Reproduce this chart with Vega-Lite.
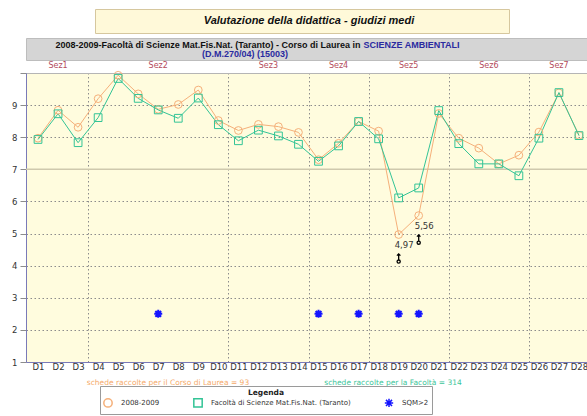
{
  "$schema": "https://vega.github.io/schema/vega-lite/v6.json",
  "padding": {"left": 11, "top": 8, "right": 0, "bottom": 0},
  "background": "white",
  "spacing": 1,
  "config": {"view": {"stroke": null}, "font": "DejaVu Sans"},
  "datasets": {
    "medie": [
      {"n": 1, "sez": "Sez1", "serie": "2008-2009", "v": 7.97},
      {"n": 2, "sez": "Sez1", "serie": "2008-2009", "v": 8.84},
      {"n": 3, "sez": "Sez1", "serie": "2008-2009", "v": 8.31},
      {"n": 4, "sez": "Sez2", "serie": "2008-2009", "v": 9.2},
      {"n": 5, "sez": "Sez2", "serie": "2008-2009", "v": 9.93},
      {"n": 6, "sez": "Sez2", "serie": "2008-2009", "v": 9.35},
      {"n": 7, "sez": "Sez2", "serie": "2008-2009", "v": 8.87},
      {"n": 8, "sez": "Sez2", "serie": "2008-2009", "v": 9.02},
      {"n": 9, "sez": "Sez2", "serie": "2008-2009", "v": 9.47},
      {"n": 10, "sez": "Sez2", "serie": "2008-2009", "v": 8.52},
      {"n": 11, "sez": "Sez3", "serie": "2008-2009", "v": 8.21},
      {"n": 12, "sez": "Sez3", "serie": "2008-2009", "v": 8.4},
      {"n": 13, "sez": "Sez3", "serie": "2008-2009", "v": 8.33},
      {"n": 14, "sez": "Sez3", "serie": "2008-2009", "v": 8.15},
      {"n": 15, "sez": "Sez4", "serie": "2008-2009", "v": 7.3},
      {"n": 16, "sez": "Sez4", "serie": "2008-2009", "v": 7.81},
      {"n": 17, "sez": "Sez4", "serie": "2008-2009", "v": 8.49},
      {"n": 18, "sez": "Sez5", "serie": "2008-2009", "v": 8.19},
      {"n": 19, "sez": "Sez5", "serie": "2008-2009", "v": 4.97, "etichetta": "4,97"},
      {"n": 20, "sez": "Sez5", "serie": "2008-2009", "v": 5.56, "etichetta": "5,56"},
      {"n": 21, "sez": "Sez5", "serie": "2008-2009", "v": 8.74},
      {"n": 22, "sez": "Sez6", "serie": "2008-2009", "v": 7.97},
      {"n": 23, "sez": "Sez6", "serie": "2008-2009", "v": 7.66},
      {"n": 24, "sez": "Sez6", "serie": "2008-2009", "v": 7.17},
      {"n": 25, "sez": "Sez6", "serie": "2008-2009", "v": 7.44},
      {"n": 26, "sez": "Sez7", "serie": "2008-2009", "v": 8.16},
      {"n": 27, "sez": "Sez7", "serie": "2008-2009", "v": 9.38},
      {"n": 28, "sez": "Sez7", "serie": "2008-2009", "v": 8.06},
      {"n": 1, "sez": "Sez1", "serie": "Facoltà di Scienze Mat.Fis.Nat. (Taranto)", "v": 7.93},
      {"n": 2, "sez": "Sez1", "serie": "Facoltà di Scienze Mat.Fis.Nat. (Taranto)", "v": 8.73},
      {"n": 3, "sez": "Sez1", "serie": "Facoltà di Scienze Mat.Fis.Nat. (Taranto)", "v": 7.83},
      {"n": 4, "sez": "Sez2", "serie": "Facoltà di Scienze Mat.Fis.Nat. (Taranto)", "v": 8.61},
      {"n": 5, "sez": "Sez2", "serie": "Facoltà di Scienze Mat.Fis.Nat. (Taranto)", "v": 9.83},
      {"n": 6, "sez": "Sez2", "serie": "Facoltà di Scienze Mat.Fis.Nat. (Taranto)", "v": 9.21},
      {"n": 7, "sez": "Sez2", "serie": "Facoltà di Scienze Mat.Fis.Nat. (Taranto)", "v": 8.85},
      {"n": 8, "sez": "Sez2", "serie": "Facoltà di Scienze Mat.Fis.Nat. (Taranto)", "v": 8.59},
      {"n": 9, "sez": "Sez2", "serie": "Facoltà di Scienze Mat.Fis.Nat. (Taranto)", "v": 9.22},
      {"n": 10, "sez": "Sez2", "serie": "Facoltà di Scienze Mat.Fis.Nat. (Taranto)", "v": 8.39},
      {"n": 11, "sez": "Sez3", "serie": "Facoltà di Scienze Mat.Fis.Nat. (Taranto)", "v": 7.89},
      {"n": 12, "sez": "Sez3", "serie": "Facoltà di Scienze Mat.Fis.Nat. (Taranto)", "v": 8.22},
      {"n": 13, "sez": "Sez3", "serie": "Facoltà di Scienze Mat.Fis.Nat. (Taranto)", "v": 8.04},
      {"n": 14, "sez": "Sez3", "serie": "Facoltà di Scienze Mat.Fis.Nat. (Taranto)", "v": 7.78},
      {"n": 15, "sez": "Sez4", "serie": "Facoltà di Scienze Mat.Fis.Nat. (Taranto)", "v": 7.25},
      {"n": 16, "sez": "Sez4", "serie": "Facoltà di Scienze Mat.Fis.Nat. (Taranto)", "v": 7.73},
      {"n": 17, "sez": "Sez4", "serie": "Facoltà di Scienze Mat.Fis.Nat. (Taranto)", "v": 8.49},
      {"n": 18, "sez": "Sez5", "serie": "Facoltà di Scienze Mat.Fis.Nat. (Taranto)", "v": 7.95},
      {"n": 19, "sez": "Sez5", "serie": "Facoltà di Scienze Mat.Fis.Nat. (Taranto)", "v": 6.11},
      {"n": 20, "sez": "Sez5", "serie": "Facoltà di Scienze Mat.Fis.Nat. (Taranto)", "v": 6.42},
      {"n": 21, "sez": "Sez5", "serie": "Facoltà di Scienze Mat.Fis.Nat. (Taranto)", "v": 8.83},
      {"n": 22, "sez": "Sez6", "serie": "Facoltà di Scienze Mat.Fis.Nat. (Taranto)", "v": 7.8},
      {"n": 23, "sez": "Sez6", "serie": "Facoltà di Scienze Mat.Fis.Nat. (Taranto)", "v": 7.17},
      {"n": 24, "sez": "Sez6", "serie": "Facoltà di Scienze Mat.Fis.Nat. (Taranto)", "v": 7.17},
      {"n": 25, "sez": "Sez6", "serie": "Facoltà di Scienze Mat.Fis.Nat. (Taranto)", "v": 6.8},
      {"n": 26, "sez": "Sez7", "serie": "Facoltà di Scienze Mat.Fis.Nat. (Taranto)", "v": 7.97},
      {"n": 27, "sez": "Sez7", "serie": "Facoltà di Scienze Mat.Fis.Nat. (Taranto)", "v": 9.39},
      {"n": 28, "sez": "Sez7", "serie": "Facoltà di Scienze Mat.Fis.Nat. (Taranto)", "v": 8.05}
    ],
    "sqm": [
      {"n": 7, "serie": "SQM>2", "v": 2.5},
      {"n": 15, "serie": "SQM>2", "v": 2.5},
      {"n": 17, "serie": "SQM>2", "v": 2.5},
      {"n": 19, "serie": "SQM>2", "v": 2.5},
      {"n": 20, "serie": "SQM>2", "v": 2.5}
    ],
    "icone": [
      {"n": 19, "v": 4.22},
      {"n": 20, "v": 4.81}
    ],
    "schede": [
      {"chi": "corso", "testo": "schede raccolte per il Corso di Laurea = 93"},
      {"chi": "facolta", "testo": "schede raccolte per la Facoltà = 314"}
    ]
  },
  "vconcat": [
    {
      "spacing": 3,
      "vconcat": [
        {
          "spacing": 0,
          "hconcat": [
            {
              "width": 68, "height": 24,
              "data": {"values": [{"t": ""}]},
              "mark": {"type": "text"},
              "encoding": {"text": {"field": "t"}}
            },
            {
              "width": 414, "height": 24,
              "view": {"fill": "#fff9d9", "stroke": "#d6c79e"},
              "data": {"values": [{"t": "Valutazione della didattica - giudizi medi"}]},
              "mark": {"type": "text", "font": "Liberation Sans", "fontSize": 11, "fontWeight": "bold", "fontStyle": "italic", "color": "#111111", "dx": 7},
              "encoding": {"text": {"field": "t"}}
            }
          ]
        },
        {
          "width": 561, "height": 22,
          "view": {"fill": "#d5d5d5", "stroke": "#bdbdbd"},
          "layer": [
            {
              "data": {"values": [{"t": "2008-2009-Facoltà di Scienze Mat.Fis.Nat. (Taranto) - Corso di Laurea in"}]},
              "mark": {"type": "text", "align": "right", "dx": 54, "dy": -4.5, "font": "Liberation Sans", "fontSize": 9, "fontWeight": "bold", "color": "#111111"},
              "encoding": {"text": {"field": "t"}}
            },
            {
              "data": {"values": [{"t": "SCIENZE AMBIENTALI"}]},
              "mark": {"type": "text", "align": "left", "dx": 57, "dy": -4.5, "font": "Liberation Sans", "fontSize": 9, "fontWeight": "bold", "color": "#2a2aa0"},
              "encoding": {"text": {"field": "t"}}
            },
            {
              "data": {"values": [{"t": "(D.M.270/04) (15003)"}]},
              "mark": {"type": "text", "align": "center", "dx": -61.5, "dy": 5, "font": "Liberation Sans", "fontSize": 9, "fontWeight": "bold", "color": "#2a2aa0"},
              "encoding": {"text": {"field": "t"}}
            }
          ]
        }
      ]
    },
    {
      "spacing": 3,
      "resolve": {"scale": {"x": "independent", "y": "independent"}},
      "vconcat": [
        {
          "width": 561, "height": 289,
          "view": {"fill": "#fffcde", "stroke": null},
          "resolve": {"axis": {"x": "independent"}},
          "layer": [
            {
              "data": {"values": [{"v": 7}]},
              "mark": {"type": "rule", "color": "#cfc9ad", "strokeWidth": 1.5},
              "encoding": {
                "y": {"field": "v", "type": "quantitative",
                  "scale": {"domain": [1, 10], "nice": false, "zero": false},
                  "axis": {"values": [1,2,3,4,5,6,7,8,9,10], "tickCount": 10,
                    "labelExpr": "datum.value < 10 ? datum.label : ''",
                    "grid": true, "gridColor": "#8c8c8c", "gridDash": [1.5, 2.5],
                    "domainColor": "#7a7ab8", "tickColor": "#8c8c8c", "tickSize": 6,
                    "labelFontSize": 8.5, "labelColor": "#333333", "labelPadding": 3, "labelFlush": false, "labelOverlap": false, "title": null}}
              }
            },
            {
              "data": {"name": "medie"},
              "transform": [{"filter": "datum.serie === '2008-2009'"}],
              "mark": {"type": "line", "strokeWidth": 1, "color": "#f5b07a"},
              "encoding": {
                "x": {"field": "n", "type": "quantitative",
                  "scale": {"domain": [0.4, 28.4], "nice": false, "zero": false},
                  "axis": {"values": [1,2,3,4,5,6,7,8,9,10,11,12,13,14,15,16,17,18,19,20,21,22,23,24,25,26,27,28], "tickCount": 28,
                    "labelExpr": "'D' + datum.value", "grid": false, "ticks": false, "domainColor": "#7a7ab8",
                    "labelFontSize": 8.5, "labelColor": "#333333", "labelPadding": 0, "labelAngle": 0, "labelFlush": false, "labelOverlap": false, "title": null}},
                "y": {"field": "v", "type": "quantitative"}
              }
            },
            {
              "data": {"name": "medie"},
              "transform": [{"filter": "datum.serie !== '2008-2009'"}],
              "mark": {"type": "line", "strokeWidth": 1, "color": "#33c496"},
              "encoding": {
                "x": {"field": "n", "type": "quantitative", "axis": null},
                "y": {"field": "v", "type": "quantitative"}
              }
            },
            {
              "data": {"name": "medie"},
              "mark": {"type": "point", "filled": false, "strokeWidth": 1, "size": 60, "opacity": 1},
              "encoding": {
                "x": {"field": "n", "type": "quantitative", "axis": null},
                "y": {"field": "v", "type": "quantitative"},
                "color": {"field": "serie", "type": "nominal",
                  "scale": {"domain": ["2008-2009", "Facoltà di Scienze Mat.Fis.Nat. (Taranto)", "SQM>2"], "range": ["#f5b07a", "#33c496", "#1414ff"]},
                  "legend": {"orient": "none", "legendX": 74, "legendY": 377, "direction": "horizontal", "title": "Legenda",
                    "titleAnchor": "middle", "titleFontSize": 7.5, "titleFontWeight": "bold", "titleColor": "#222222", "titlePadding": 1,
                    "labelFontSize": 7, "labelColor": "#333333", "labelLimit": 300, "fillColor": "white", "strokeColor": "#9a9a9a",
                    "padding": 3, "columnPadding": 30, "symbolSize": 70, "symbolStrokeWidth": 1.5, "labelOffset": 8}},
                "shape": {"field": "serie", "type": "nominal",
                  "scale": {"domain": ["2008-2009", "Facoltà di Scienze Mat.Fis.Nat. (Taranto)", "SQM>2"],
                    "range": ["circle", "square", "M-1,0L1,0M0,-1L0,1M-0.72,-0.72L0.72,0.72M-0.72,0.72L0.72,-0.72"]},
                  "legend": {"orient": "none", "legendX": 74, "legendY": 377, "direction": "horizontal", "title": "Legenda",
                    "titleAnchor": "middle", "titleFontSize": 7.5, "titleFontWeight": "bold", "titleColor": "#222222", "titlePadding": 1,
                    "labelFontSize": 7, "labelColor": "#333333", "labelLimit": 300, "fillColor": "white", "strokeColor": "#9a9a9a",
                    "padding": 3, "columnPadding": 30, "symbolSize": 70, "symbolStrokeWidth": 1.5, "labelOffset": 8}}
              }
            },
            {
              "data": {"name": "sqm"},
              "mark": {"type": "point", "filled": false, "strokeWidth": 2, "size": 64, "opacity": 1},
              "encoding": {
                "x": {"field": "n", "type": "quantitative", "axis": null},
                "y": {"field": "v", "type": "quantitative"},
                "color": {"field": "serie", "type": "nominal"},
                "shape": {"field": "serie", "type": "nominal"}
              }
            },
            {
              "data": {"name": "medie"},
              "transform": [{"filter": "datum.etichetta != null"}],
              "mark": {"type": "text", "dx": 5.5, "dy": 10, "fontSize": 8.5, "color": "#333333"},
              "encoding": {
                "x": {"field": "n", "type": "quantitative", "axis": null},
                "y": {"field": "v", "type": "quantitative"},
                "text": {"field": "etichetta"}
              }
            },
            {
              "data": {"name": "icone"},
              "mark": {"type": "point", "filled": false, "color": "#000000", "strokeWidth": 1.3, "size": 100, "opacity": 1,
                "shape": "M0,0.2L0,-0.95M-0.35,-0.6L0,-0.95L0.35,-0.6M0.32,0.6A0.32,0.32 0 1 1 -0.32,0.6A0.32,0.32 0 1 1 0.32,0.6"},
              "encoding": {
                "x": {"field": "n", "type": "quantitative", "axis": null},
                "y": {"field": "v", "type": "quantitative"}
              }
            },
            {
              "data": {"name": "medie"},
              "transform": [
                {"filter": "datum.serie === '2008-2009'"},
                {"aggregate": [{"op": "mean", "field": "n", "as": "centro"}], "groupby": ["sez"]}
              ],
              "mark": {"type": "text", "baseline": "bottom", "dy": -3, "fontSize": 8, "color": "#b44c5c", "clip": false},
              "encoding": {
                "x": {"field": "centro", "type": "quantitative",
                  "axis": {"orient": "top", "values": [3.5, 10.5, 14.5, 17.5, 21.5, 25.5], "tickCount": 6, "labels": false, "ticks": false,
                    "grid": true, "gridColor": "#8c8c8c", "gridDash": [1.5, 2.5], "domain": true, "domainColor": "#b5b5b5", "title": null}},
                "y": {"datum": 10, "type": "quantitative"},
                "text": {"field": "sez"}
              }
            }
          ]
        },
        {
          "width": 561, "height": 18,
          "data": {"name": "schede"},
          "mark": {"type": "text", "fontSize": 7.5},
          "encoding": {
            "x": {"field": "chi", "type": "nominal",
              "scale": {"type": "point", "domain": ["corso", "facolta"], "padding": 0.7467, "align": 0.4226},
              "axis": null},
            "text": {"field": "testo"},
            "fill": {"field": "chi", "type": "nominal",
              "scale": {"domain": ["corso", "facolta"], "range": ["#f5aa6a", "#3cc59a"]}, "legend": null}
          }
        }
      ]
    }
  ]
}
